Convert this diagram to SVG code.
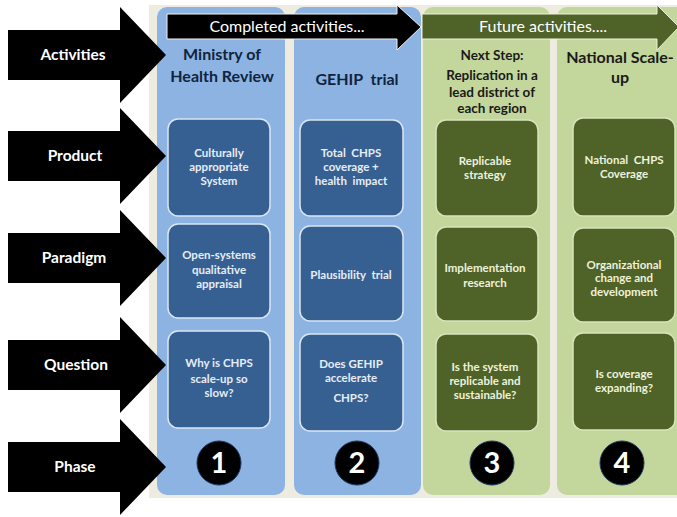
<svg xmlns="http://www.w3.org/2000/svg" width="677" height="517" viewBox="0 0 677 517">
<style>
.lbl{font-family:Lato,"Noto Sans","Liberation Sans",sans-serif;font-weight:bold;font-size:15.5px;fill:#ffffff;text-anchor:middle}
.ttl{font-family:Lato,"Noto Sans","Liberation Sans",sans-serif;font-weight:bold;font-size:16px;fill:#0f243e;text-anchor:middle}
.ttl2{font-family:Lato,"Noto Sans","Liberation Sans",sans-serif;font-weight:bold;font-size:13.5px;fill:#1a1a1a;text-anchor:middle}
.ttl3{font-family:Lato,"Noto Sans","Liberation Sans",sans-serif;font-weight:bold;font-size:16px;fill:#1a1a1a;text-anchor:middle}
.bt{font-family:Lato,"Noto Sans","Liberation Sans",sans-serif;font-weight:bold;font-size:11.5px;fill:#e6edf6;text-anchor:middle}
.gt{font-family:Lato,"Noto Sans","Liberation Sans",sans-serif;font-weight:bold;font-size:11.5px;fill:#eef2dc;text-anchor:middle}
.hdr{font-family:Lato,"Noto Sans","Liberation Sans",sans-serif;font-size:16px;fill:#ffffff;text-anchor:middle}
.num{font-family:Lato,"Noto Sans","Liberation Sans",sans-serif;font-weight:bold;font-size:29px;fill:#ffffff;text-anchor:middle}
.bcol{fill:#8db3e2}
.gcol{fill:#c3d69b}
.bbox{fill:#366092;stroke:#dce6f2;stroke-width:1.5}
.gbox{fill:#4f6228;stroke:#d7e4bd;stroke-width:1.5}
.circ{fill:#000000;stroke:#1f3864;stroke-width:1}
</style>
<defs>
<path id="larrow" d="M8,-25 H120 V-48 L166,0 L120,48 V25 H8 Z" fill="#000000"/>
</defs>
<rect x="0" y="0" width="677" height="517" fill="#ffffff"/>
<rect id="background" x="149" y="5" width="528" height="493" fill="#eeece1"/>
<g id="columns">
<rect class="bcol" x="157" y="7" width="128" height="488" rx="10"/>
<rect class="bcol" x="294" y="7" width="127" height="488" rx="10"/>
<rect class="gcol" x="423" y="7" width="127" height="488" rx="10"/>
<rect class="gcol" x="557" y="7" width="132" height="488" rx="10"/>
</g>
<g id="header-completed">
<path d="M167,14 H397 V5 L421,27 L397,50 V39 H167 Z" fill="#000000" stroke="#f2f2f2" stroke-width="1"/>
<text class="hdr" x="287" y="32">Completed activities...</text>
</g>
<g id="header-future">
<path d="M422,14 H657 V5 L679,27 L657,50 V39 H422 Z" fill="#4f6228" stroke="#eef2dc" stroke-width="1"/>
<text class="hdr" x="543" y="32">Future activities....</text>
</g>
<g id="connectors">
<use href="#larrow" transform="translate(0,55)"/>
<use href="#larrow" transform="translate(0,156)"/>
<use href="#larrow" transform="translate(0,258)"/>
<use href="#larrow" transform="translate(0,365)"/>
<use href="#larrow" transform="translate(0,467)"/>
</g>
<g id="row-labels">
<text class="lbl" x="73" y="60">Activities</text>
<text class="lbl" x="75" y="161">Product</text>
<text class="lbl" x="74" y="263">Paradigm</text>
<text class="lbl" x="76" y="370">Question</text>
<text class="lbl" x="75" y="472">Phase</text>
</g>
<g id="col1-title">
<text class="ttl" x="222" y="60">Ministry of</text>
<text class="ttl" x="222" y="82">Health Review</text>
</g>
<g id="col2-title">
<text class="ttl" x="357" y="85" xml:space="preserve">GEHIP  trial</text>
</g>
<g id="col3-title">
<text class="ttl2" x="492" y="60">Next Step:</text>
<text class="ttl2" x="492" y="80">Replication in a</text>
<text class="ttl2" x="492" y="97">lead district of</text>
<text class="ttl2" x="492" y="113">each region</text>
</g>
<g id="col4-title">
<text class="ttl3" x="620" y="63">National Scale-</text>
<text class="ttl3" x="620" y="83">up</text>
</g>
<g id="box-1-product">
<rect class="bbox" x="168" y="119" width="102" height="97" rx="10"/>
<text class="bt" x="219" y="157">Culturally</text>
<text class="bt" x="219" y="171">appropriate</text>
<text class="bt" x="219" y="185">System</text>
</g>
<g id="box-1-paradigm">
<rect class="bbox" x="168" y="224" width="102" height="94" rx="10"/>
<text class="bt" x="219" y="259">Open-systems</text>
<text class="bt" x="219" y="274">qualitative</text>
<text class="bt" x="219" y="288">appraisal</text>
</g>
<g id="box-1-question">
<rect class="bbox" x="168" y="331" width="102" height="97" rx="10"/>
<text class="bt" x="219" y="367">Why is CHPS</text>
<text class="bt" x="219" y="383">scale-up so</text>
<text class="bt" x="219" y="397">slow?</text>
</g>
<g id="box-2-product">
<rect class="bbox" x="300" y="120" width="103" height="96" rx="10"/>
<text class="bt" x="351" y="157" xml:space="preserve">Total  CHPS</text>
<text class="bt" x="351" y="171">coverage +</text>
<text class="bt" x="351" y="185" xml:space="preserve">health  impact</text>
</g>
<g id="box-2-paradigm">
<rect class="bbox" x="300" y="226" width="103" height="95" rx="10"/>
<text class="bt" x="351" y="279" xml:space="preserve">Plausibility  trial</text>
</g>
<g id="box-2-question">
<rect class="bbox" x="300" y="334" width="103" height="97" rx="10"/>
<text class="bt" x="351" y="368">Does GEHIP</text>
<text class="bt" x="351" y="382">accelerate</text>
<text class="bt" x="351" y="402">CHPS?</text>
</g>
<g id="box-3-product">
<rect class="gbox" x="436" y="120" width="102" height="96" rx="10"/>
<text class="gt" x="485" y="165">Replicable</text>
<text class="gt" x="485" y="179">strategy</text>
</g>
<g id="box-3-paradigm">
<rect class="gbox" x="436" y="227" width="102" height="94" rx="10"/>
<text class="gt" x="485" y="272">Implementation</text>
<text class="gt" x="485" y="287">research</text>
</g>
<g id="box-3-question">
<rect class="gbox" x="436" y="334" width="102" height="97" rx="10"/>
<text class="gt" x="485" y="371">Is the system</text>
<text class="gt" x="485" y="385">replicable and</text>
<text class="gt" x="485" y="399">sustainable?</text>
</g>
<g id="box-4-product">
<rect class="gbox" x="573" y="118" width="102" height="98" rx="10"/>
<text class="gt" x="624" y="164" xml:space="preserve">National  CHPS</text>
<text class="gt" x="624" y="178">Coverage</text>
</g>
<g id="box-4-paradigm">
<rect class="gbox" x="573" y="228" width="102" height="94" rx="10"/>
<text class="gt" x="624" y="269">Organizational</text>
<text class="gt" x="624" y="282">change and</text>
<text class="gt" x="624" y="296">development</text>
</g>
<g id="box-4-question">
<rect class="gbox" x="573" y="333" width="102" height="97" rx="10"/>
<text class="gt" x="624" y="378">Is coverage</text>
<text class="gt" x="624" y="392">expanding?</text>
</g>
<g id="phase-1">
<circle class="circ" cx="219" cy="463" r="22"/>
<text class="num" x="219" y="473">1</text>
</g>
<g id="phase-2">
<circle class="circ" cx="357" cy="463" r="22"/>
<text class="num" x="357" y="473">2</text>
</g>
<g id="phase-3">
<circle class="circ" cx="492" cy="463" r="22"/>
<text class="num" x="492" y="473">3</text>
</g>
<g id="phase-4">
<circle class="circ" cx="622" cy="463" r="22"/>
<text class="num" x="622" y="473">4</text>
</g>
</svg>
